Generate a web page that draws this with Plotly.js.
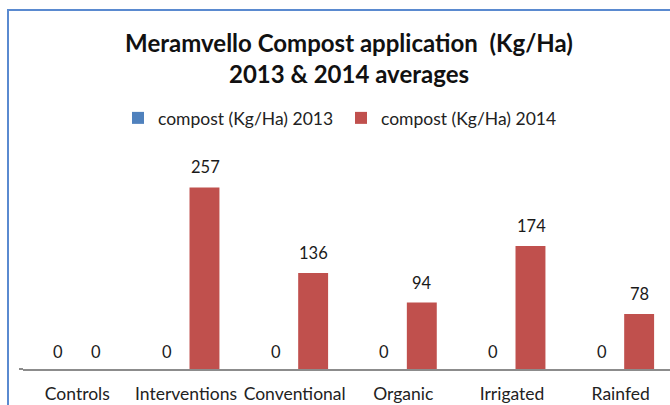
<!DOCTYPE html>
<html>
<head>
<meta charset="utf-8">
<script src="https://cdn.plot.ly/plotly-3.0.1.min.js"></script>
<style>
html,body{margin:0;padding:0;overflow:hidden;background:#fff;}
#chart{width:676px;height:405px;}
</style>
</head>
<body>
<div id="chart"></div>
<script>
var categories = ["Controls", "Interventions", "Conventional", "Organic", "Irrigated", "Rainfed"];
var compost2013 = [0, 0, 0, 0, 0, 0];
var compost2014 = [0, 257, 136, 94, 174, 78];
var seriesNames = ["compost (Kg/Ha) 2013", "compost (Kg/Ha) 2014"];

var W = 676, H = 405;
var L = 23, R = 1, T = 157, B = 36;
var plotH = H - T - B, plotW = W - L - R;
function px(x){ return (x - L) / plotW; }
function py(y){ return (H - B - y) / plotH; }

var font = "Lato, 'DejaVu Sans', sans-serif";
var traces = [
  {type: "bar", name: seriesNames[0], x: categories, y: compost2013,
   marker: {color: "#4F81BD"}},
  {type: "bar", name: seriesNames[1], x: categories, y: compost2014,
   marker: {color: "#C0504D"}}
];

// value labels placed at each bar's top through the axes
var annotations = [];
[[compost2013, -19], [compost2014, 19]].forEach(function(pair){
  var vals = pair[0], dx = pair[1];
  categories.forEach(function(c, i){
    annotations.push({x: c, y: vals[i], xref: "x", yref: "y", text: String(vals[i]),
      showarrow: false, xanchor: "center", yanchor: "middle",
      xshift: dx, yshift: vals[i] > 0 ? 20 : 17,
      font: {family: font, size: 16.5, color: "#1a1a1a"}});
  });
});

var layout = {
  width: W, height: H,
  margin: {l: L, r: R, t: T, b: B, pad: 0},
  paper_bgcolor: "#fff", plot_bgcolor: "#fff",
  font: {family: font, color: "#222"},
  title: {text: "<b>Meramvello Compost application  (Kg/Ha)</b><br><b>2013 &amp; 2014 averages</b>",
          x: px(349), xref: "paper", xanchor: "center",
          y: 1 - 52/H, yref: "container", yanchor: "middle",
          font: {family: font, size: 24, color: "#111"}},
  barmode: "group", bargap: 0.32, bargroupgap: 0.19,
  showlegend: true,
  legend: {orientation: "h", x: px(118), xref: "paper", xanchor: "left",
           y: 1 - 118/H, yref: "container", yanchor: "middle",
           font: {family: font, size: 17.5, color: "#222"}, itemwidth: 30,
           traceorder: "normal", entrywidth: 178, entrywidthmode: "pixels"},
  xaxis: {type: "category", showline: true, linecolor: "#8c8c8c", linewidth: 2,
          ticks: "", showgrid: false, zeroline: false,
          tickfont: {family: font, size: 17.5, color: "#222"}, ticklabelstandoff: 8,
          fixedrange: true},
  yaxis: {range: [0, 300], visible: false, showgrid: false, zeroline: false, fixedrange: true},
  annotations: annotations,
  shapes: [
    {type: "line", xref: "paper", yref: "paper", x0: px(8), x1: px(8), y0: py(10), y1: py(410),
     line: {color: "#5A8AD0", width: 2}},
    {type: "line", xref: "paper", yref: "paper", x0: px(7), x1: px(690), y0: py(10), y1: py(10),
     line: {color: "#5A8AD0", width: 2}},
    {type: "line", xref: "paper", yref: "paper", x0: px(19), x1: px(23), y0: py(369), y1: py(369),
     line: {color: "#8c8c8c", width: 2}}
  ]
};

Plotly.newPlot("chart", traces, layout, {displayModeBar: false, staticPlot: true});
</script>
</body>
</html>
